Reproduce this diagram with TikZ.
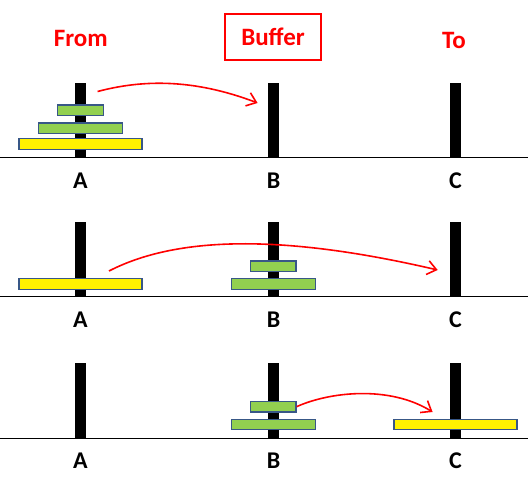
\documentclass[tikz,border=0pt]{standalone}
\usepackage{fontspec}
\setmainfont{Carlito}
\definecolor{diskgreen}{RGB}{146, 208, 80}
\definecolor{diskedge}{RGB}{56, 87, 135}
\definecolor{movered}{RGB}{255, 0, 0}
\usetikzlibrary{arrows.meta, positioning}
\tikzset{
	peg/.style={rectangle, fill=black, inner sep=0pt, minimum width=10.5pt, minimum height=75pt, anchor=south},
	disk/.style={rectangle, draw=diskedge, line width=1.3pt, fill=diskgreen, inner sep=0pt, minimum height=10.5pt},
	bigdisk/.style={disk, fill=yellow, minimum width=123pt},
	middisk/.style={disk, minimum width=84pt},
	smalldisk/.style={disk, minimum width=45.5pt},
	ground/.style={line width=1pt, draw=black},
	pegname/.style={font=\bfseries\fontsize{24}{28}\selectfont},
	rolename/.style={font=\bfseries\fontsize{25}{30}\selectfont, text=movered},
	move/.style={-{Straight Barb[length=9pt, width=14pt]}, line width=1.6pt, draw=movered},
}

\begin{document}
\begin{tikzpicture}[x=1pt, y=-1pt, node distance=6pt]
		\useasboundingbox (0,0) rectangle (528,481);
		% roles
		\node[rolename] (from) at (80.8,38.5) {From};
		\node[rolename, draw=movered, line width=1.1pt, minimum width=96pt, minimum height=46pt] (buffer) at (273,37) {Buffer};
		\node[rolename] (to) at (454,40) {To};
		% step 1
		\draw[ground] (0,158) -- (528,158);
		\node[peg] (pegA1) at (80.5,158) {};
		\node[peg] (pegB1) at (273.5,158) {};
		\node[peg] (pegC1) at (455.5,158) {};
		\node[pegname] (nameA1) at (80.5,181) {A};
		\node[pegname] (nameB1) at (273.5,181) {B};
		\node[pegname] (nameC1) at (455.5,181) {C};
		\node[bigdisk] (bigA1) at (80.5,144) {};
		\node[middisk, above=4pt of bigA1] (midA1) {};
		\node[smalldisk, above=of midA1] (smallA1) {};
		\coordinate (s1) at (97.6,91.5);
		\coordinate (e1) at (257.6,103);
		\draw[move] (s1) .. controls (141,80) and (192,78) .. (e1);
		% step 2
		\draw[ground] (0,297) -- (528,297);
		\node[peg] (pegA2) at (80.5,297) {};
		\node[peg] (pegB2) at (273.5,297) {};
		\node[peg] (pegC2) at (455.5,297) {};
		\node[pegname] (nameA2) at (80.5,319.5) {A};
		\node[pegname] (nameB2) at (273.5,319.5) {B};
		\node[pegname] (nameC2) at (455.5,319.5) {C};
		\node[bigdisk] (bigA2) at (80.5,284) {};
		\node[middisk] (midB2) at (273.2,284) {};
		\node[smalldisk, above=of midB2] (smallB2) {};
		\coordinate (s2) at (109,271);
		\coordinate (e2) at (437.7,270);
		\draw[move] (s2) .. controls (177,236) and (283,234) .. (e2);
		% step 3
		\draw[ground] (0,438) -- (528,438);
		\node[peg] (pegA3) at (80.5,438) {};
		\node[peg] (pegB3) at (273.5,438) {};
		\node[peg] (pegC3) at (455.5,438) {};
		\node[pegname] (nameA3) at (80.5,461) {A};
		\node[pegname] (nameB3) at (273.5,461) {B};
		\node[pegname] (nameC3) at (455.5,461) {C};
		\node[middisk] (midB3) at (273.2,424.5) {};
		\node[smalldisk, above=of midB3] (smallB3) {};
		\node[bigdisk] (bigC3) at (455.4,424.5) {};
		\coordinate (e3) at (432.6,412);
		\draw[move] (smallB3.east) .. controls (329,392) and (389,385) .. (e3);
	\end{tikzpicture}
\end{document}
